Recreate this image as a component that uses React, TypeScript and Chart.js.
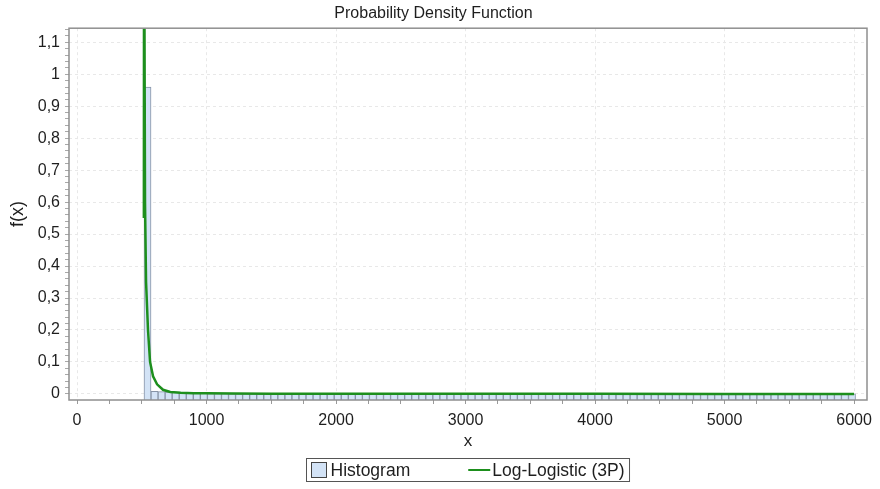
import React, { useEffect, useRef } from 'react';
import { Chart, registerables } from 'chart.js';

Chart.register(...registerables);

const TITLE = 'Probability Density Function';
const X_LABEL = 'x';
const Y_LABEL = 'f(x)';
const HIST_LABEL = 'Histogram';
const CURVE_LABEL = 'Log-Logistic (3P)';

const X_MIN = -62;
const X_MAX = 6100;
const Y_MIN = -0.019;
const Y_MAX = 1.144;

const X_MAJOR_TICKS = [0, 1000, 2000, 3000, 4000, 5000, 6000];
const X_MINOR_STEP = 250;
const Y_MAJOR_TICKS = [0, 0.1, 0.2, 0.3, 0.4, 0.5, 0.6, 0.7, 0.8, 0.9, 1, 1.1];
const Y_MINOR_STEP = 0.02;

// Histogram bins: start and width of each bin, heights per bin
const HIST_START = 517;
const HIST_BIN_WIDTH = 54.4;
const HIST_Y = [
  0.96, 0.008, 0.007, 0.006, 0.006, 0.005, 0.003, 0.002, 0.0015, 0.001,
  0.0008, 0.0007, 0.0006, 0.0006, 0.0005, 0.0005, 0.0005, 0.0005, 0.0005, 0.0005,
  0.0005, 0.0005, 0.0005, 0.0005, 0.0005, 0.0005, 0.0005, 0.0005, 0.0005, 0.0005,
  0.0005, 0.0005, 0.0005, 0.0005, 0.0005, 0.0005, 0.0005, 0.0005, 0.0005, 0.0005,
  0.0005, 0.0005, 0.0005, 0.0005, 0.0005, 0.0005, 0.0005, 0.0005, 0.0005, 0.0005,
  0.0005, 0.0005, 0.0005, 0.0005, 0.0005, 0.0005, 0.0005, 0.0005, 0.0005, 0.0005,
  0.0005, 0.0005, 0.0005, 0.0005, 0.0005, 0.0005, 0.0005, 0.0005, 0.0005, 0.0005,
  0.0005, 0.0005, 0.0005, 0.0005, 0.0005, 0.0005, 0.0005, 0.0005, 0.0005, 0.0005,
  0.0005, 0.0005, 0.0005, 0.0005, 0.0005, 0.0005, 0.0005, 0.0005, 0.0005, 0.0005,
  0.0005, 0.0005, 0.0005, 0.0005, 0.0005, 0.0005, 0.0005, 0.0005, 0.0005, 0.0005,
  0.0005,
];

// Fitted Log-Logistic (3P) density
const CURVE_X = [516, 517.5, 519.5, 521, 525, 533, 548, 564, 587, 618, 664, 720, 800, 900, 1000, 1200, 1500, 2000, 3000, 4000, 5000, 6000];
const CURVE_Y = [0.55, 1.6, 1.8, 1.25, 0.6, 0.35, 0.2, 0.1, 0.055, 0.03, 0.013, 0.006, 0.0035, 0.0025, 0.0018, 0.0012, 0.0008, 0.0005, 0.0003, 0.0002, 0.00015, 0.0001];

const FONT = '"Liberation Sans", Arial, sans-serif';
const BAR_FILL = '#d3e3f6';
const BAR_BORDER = '#8693a6';
const CURVE_COLOR = '#1d8f1d';
const FRAME_COLOR = '#8f8f8f';
const GRID_COLOR = '#e8e8e8';
const TEXT_COLOR = '#1e1e1e';

const fmt = (v: number) => String(Math.round(v * 100) / 100).replace('.', ',');

const isMajor = (v: number, majors: number[]) => majors.some((m) => Math.abs(m - v) < 1e-9);

const framePlugin = {
  id: 'frame',
  afterDatasetsDraw(chart: any) {
    const { ctx, chartArea } = chart;
    ctx.save();
    ctx.strokeStyle = FRAME_COLOR;
    ctx.lineWidth = 1.5;
    ctx.strokeRect(chartArea.left, chartArea.top, chartArea.right - chartArea.left, chartArea.bottom - chartArea.top);
    ctx.restore();
  },
};

const legendPlugin = {
  id: 'boxLegend',
  afterDraw(chart: any) {
    const { ctx, chartArea } = chart;
    ctx.save();
    ctx.font = `17.5px ${FONT}`;
    const w1 = ctx.measureText(HIST_LABEL).width;
    const w2 = ctx.measureText(CURVE_LABEL).width;
    const pad = 5, sq = 15, gap1 = 4, colGap = 58, lineLen = 22, gap2 = 2;
    const total = pad + sq + gap1 + w1 + colGap + lineLen + gap2 + w2 + pad;
    const cx = (chartArea.left + chartArea.right) / 2;
    const left = Math.round(cx - total / 2) + 0.5;
    const top = chartArea.bottom + 58.5;
    const h = 23;
    const cy = top + h / 2;
    ctx.strokeStyle = '#555555';
    ctx.lineWidth = 1;
    ctx.strokeRect(left, top, total, h);
    let x = left + pad;
    ctx.fillStyle = BAR_FILL;
    ctx.fillRect(x, cy - sq / 2, sq, sq);
    ctx.strokeStyle = '#444444';
    ctx.strokeRect(x, cy - sq / 2, sq, sq);
    x += sq + gap1;
    ctx.fillStyle = TEXT_COLOR;
    ctx.textBaseline = 'middle';
    ctx.textAlign = 'left';
    ctx.fillText(HIST_LABEL, x, cy + 1);
    x += w1 + colGap;
    ctx.strokeStyle = CURVE_COLOR;
    ctx.lineWidth = 2;
    ctx.beginPath();
    ctx.moveTo(x, cy);
    ctx.lineTo(x + lineLen, cy);
    ctx.stroke();
    x += lineLen + gap2;
    ctx.fillText(CURVE_LABEL, x, cy + 1);
    ctx.restore();
  },
};

export default function App() {
  const canvasRef = useRef<HTMLCanvasElement | null>(null);

  useEffect(() => {
    if (!canvasRef.current) return;
    const histData = HIST_Y.map((y, i) => ({ x: HIST_START + HIST_BIN_WIDTH * (i + 0.5), y }));
    const curveData = CURVE_X.map((x, i) => ({ x, y: CURVE_Y[i] }));

    const xTicks: number[] = [];
    for (let v = 0; v <= X_MAJOR_TICKS[X_MAJOR_TICKS.length - 1] + 1e-9; v += X_MINOR_STEP) xTicks.push(v);
    const yTicks: number[] = [];
    for (let k = 0; k * Y_MINOR_STEP <= Y_MAX + 1e-9; k++) yTicks.push(Math.round(k * Y_MINOR_STEP * 1000) / 1000);

    const chart = new Chart(canvasRef.current, {
      data: {
        datasets: [
          {
            type: 'line',
            label: CURVE_LABEL,
            data: curveData,
            borderColor: CURVE_COLOR,
            borderWidth: 2.5,
            pointRadius: 0,
            tension: 0,
            fill: false,
            order: 0,
          } as any,
          {
            type: 'bar',
            label: HIST_LABEL,
            data: histData,
            backgroundColor: BAR_FILL,
            borderColor: BAR_BORDER,
            borderWidth: 1,
            borderSkipped: 'start',
            barPercentage: 1,
            categoryPercentage: 1,
            base: Y_MIN,
            order: 1,
          } as any,
        ],
      },
      options: {
        animation: false,
        responsive: true,
        maintainAspectRatio: false,
        layout: { padding: { left: 0, right: 13, top: 0, bottom: 29 } },
        plugins: {
          legend: { display: false },
          tooltip: { enabled: false },
          title: {
            display: true,
            text: TITLE,
            color: TEXT_COLOR,
            font: { family: FONT, size: 16, weight: 'normal' },
            padding: { top: 4, bottom: 5 },
          },
        },
        scales: {
          x: {
            type: 'linear',
            min: X_MIN,
            max: X_MAX,
            offset: false,
            afterBuildTicks: (scale: any) => {
              scale.ticks = xTicks.map((v) => ({ value: v }));
            },
            afterFit: (scale: any) => {
              scale.height = 60;
            },
            ticks: {
              autoSkip: false,
              maxRotation: 0,
              padding: 7,
              color: TEXT_COLOR,
              font: { family: FONT, size: 16 },
              callback: (v: any) => (isMajor(Number(v), X_MAJOR_TICKS) ? String(v) : ''),
            },
            grid: {
              offset: false,
              color: (c: any) => (c.tick && isMajor(c.tick.value, X_MAJOR_TICKS) ? GRID_COLOR : 'rgba(0,0,0,0)'),
              tickColor: '#9a9a9a',
              tickLength: 4,
              tickBorderDash: [],
            } as any,
            border: { display: false, dash: [3, 3] },
            title: {
              display: true,
              text: X_LABEL,
              color: TEXT_COLOR,
              font: { family: FONT, size: 17 },
              padding: { top: 0, bottom: 8 },
            },
          },
          y: {
            type: 'linear',
            min: Y_MIN,
            max: Y_MAX,
            afterBuildTicks: (scale: any) => {
              scale.ticks = yTicks.map((v) => ({ value: v }));
            },
            afterFit: (scale: any) => {
              scale.width = 69;
            },
            ticks: {
              autoSkip: false,
              padding: 5,
              color: TEXT_COLOR,
              font: { family: FONT, size: 16 },
              callback: (v: any) => (isMajor(Number(v), Y_MAJOR_TICKS) ? fmt(Number(v)) : ''),
            },
            grid: {
              color: (c: any) => (c.tick && isMajor(c.tick.value, Y_MAJOR_TICKS) ? GRID_COLOR : 'rgba(0,0,0,0)'),
              tickColor: '#a8a8a8',
              tickLength: 4,
              tickBorderDash: [],
            } as any,
            border: { display: false, dash: [3, 3] },
            title: {
              display: true,
              text: Y_LABEL,
              color: TEXT_COLOR,
              font: { family: FONT, size: 18 },
              padding: { top: 7, bottom: 0 },
            },
          },
        },
      },
      plugins: [framePlugin, legendPlugin],
    } as any);

    return () => chart.destroy();
  }, []);

  return (
    <div style={{ position: 'fixed', left: 0, top: 0, width: 880, height: 489, background: '#ffffff' }}>
      <canvas ref={canvasRef} />
    </div>
  );
}
